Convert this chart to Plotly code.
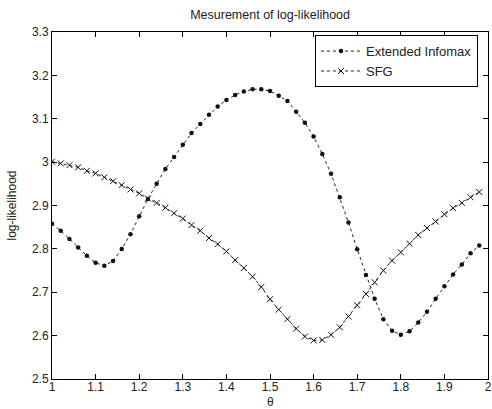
import plotly.graph_objects as go

theta = [1.00, 1.02, 1.04, 1.06, 1.08, 1.10, 1.12, 1.14, 1.16, 1.18,
         1.20, 1.22, 1.24, 1.26, 1.28, 1.30, 1.32, 1.34, 1.36, 1.38,
         1.40, 1.42, 1.44, 1.46, 1.48, 1.50, 1.52, 1.54, 1.56, 1.58,
         1.60, 1.62, 1.64, 1.66, 1.68, 1.70, 1.72, 1.74, 1.76, 1.78,
         1.80, 1.82, 1.84, 1.86, 1.88, 1.90, 1.92, 1.94, 1.96, 1.98]

extended_infomax = [2.858, 2.842, 2.823, 2.803, 2.784, 2.768, 2.761, 2.772, 2.800, 2.834,
                    2.875, 2.915, 2.950, 2.984, 3.012, 3.040, 3.067, 3.088, 3.109, 3.128,
                    3.143, 3.155, 3.163, 3.168, 3.168, 3.164, 3.153, 3.141, 3.116, 3.091,
                    3.059, 3.019, 2.973, 2.919, 2.861, 2.799, 2.740, 2.685, 2.638, 2.611,
                    2.602, 2.610, 2.630, 2.655, 2.685, 2.714, 2.741, 2.764, 2.790, 2.808]

sfg = [3.001, 2.997, 2.993, 2.988, 2.980, 2.974, 2.965, 2.956, 2.947, 2.937,
       2.928, 2.916, 2.906, 2.895, 2.882, 2.870, 2.855, 2.842, 2.825, 2.811,
       2.794, 2.774, 2.756, 2.736, 2.712, 2.684, 2.660, 2.638, 2.616, 2.598,
       2.589, 2.590, 2.602, 2.619, 2.644, 2.670, 2.696, 2.723, 2.750, 2.773,
       2.792, 2.812, 2.832, 2.848, 2.863, 2.880, 2.894, 2.906, 2.919, 2.931]

x_ticks = [1.0, 1.1, 1.2, 1.3, 1.4, 1.5, 1.6, 1.7, 1.8, 1.9, 2.0]
x_tick_labels = ["1", "1.1", "1.2", "1.3", "1.4", "1.5", "1.6", "1.7", "1.8", "1.9", "2"]
y_ticks = [2.5, 2.6, 2.7, 2.8, 2.9, 3.0, 3.1, 3.2, 3.3]
y_tick_labels = ["2.5", "2.6", "2.7", "2.8", "2.9", "3", "3.1", "3.2", "3.3"]

FONT = "Liberation Sans, Arial, sans-serif"

fig = go.Figure()
fig.add_trace(go.Scatter(
    x=theta, y=extended_infomax, name="Extended Infomax",
    mode="lines+markers",
    line=dict(color="#222", width=1, dash="dot"),
    marker=dict(symbol="circle", size=4.5, color="#111"),
))
fig.add_trace(go.Scatter(
    x=theta, y=sfg, name="SFG",
    mode="lines+markers",
    line=dict(color="#222", width=1, dash="dot"),
    marker=dict(symbol="x-thin-open", size=6, color="#111",
                line=dict(color="#111", width=1)),
))

axis_common = dict(
    showgrid=False, zeroline=False, showline=True, linecolor="black",
    linewidth=1, mirror="ticks", ticks="inside", ticklen=5,
    tickcolor="black", tickwidth=1, automargin=False,
    tickfont=dict(family=FONT, size=12, color="#222"),
)

fig.update_layout(
    width=492, height=409,
    margin=dict(l=52, r=4, t=32, b=30),
    paper_bgcolor="white", plot_bgcolor="white",
    title=dict(text="Mesurement of log-likelihood", x=0.549, xanchor="center",
               y=0.965, yanchor="middle",
               font=dict(family=FONT, size=12.5, color="#222")),
    xaxis=dict(range=[1, 2], tickvals=x_ticks, ticktext=x_tick_labels,
               ticklabelstandoff=-3,
               **axis_common),
    yaxis=dict(range=[2.5, 3.3], tickvals=y_ticks, ticktext=y_tick_labels,
               title=dict(text="log-likelihood",
                          font=dict(family=FONT, size=12, color="#222"),
                          standoff=12),
               **axis_common),
    legend=dict(x=0.977, y=0.991, xanchor="right", yanchor="top",
                bgcolor="white", bordercolor="black", borderwidth=1,
                font=dict(family=FONT, size=13, color="#222"),
                tracegroupgap=0, itemwidth=40),
    showlegend=True,
    annotations=[dict(text="θ", xref="x", yref="paper", x=1.5, y=-0.067,
                      xanchor="center", yanchor="middle", showarrow=False,
                      font=dict(family=FONT, size=12, color="#222"))],
)

fig.write_html("out.html")
